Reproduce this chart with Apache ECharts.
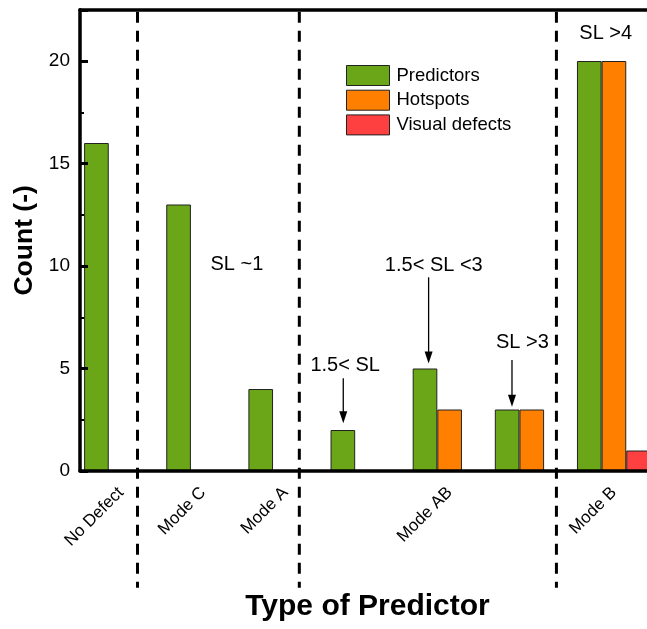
<!DOCTYPE html>
<html><head><meta charset="utf-8">
<script src="https://cdn.jsdelivr.net/npm/echarts@6/dist/echarts.min.js"></script>
<style>html,body{margin:0;padding:0;background:#fff}#c{width:647px;height:629px}</style>
</head><body><div id="c"></div>
<script>
// ---- data ----
const categories = ['No Defect', 'Mode C', 'Mode A', '', 'Mode AB', '', 'Mode B'];
const predictors = [16, 13, 4, 2, 5, 3, 20];
const hotspots = [null, null, null, null, 3, 3, 20];
const visualDefects = [null, null, null, null, null, null, 1];
const yTickValues = [0, 5, 10, 15, 20];
// group separators (in category units, band centers at 0..6)
const separators = [0.2, 2.17, 5.3];
const separatorBottom = -5.7;
const annotationTexts = ['SL >4', 'SL ~1', '1.5< SL <3', 'SL >3', '1.5< SL'];
const annotationX = [5.90, 1.41, 3.807, 4.886, 2.728];
const annotationY = [21.33, 10.08, 10.01, 6.27, 5.13];
const arrowX = [2.705, 3.744, 4.759];
const arrowFrom = [4.52, 9.45, 5.41];
const arrowTo = [2.33, 5.25, 3.14];

const FONT = 'Liberation Sans, Arial, Helvetica, sans-serif';
const chart = echarts.init(document.getElementById('c'), null, {renderer: 'canvas'});
const barStyle = (c) => ({color: c, borderColor: '#222', borderWidth: 1});

chart.setOption({
  animation: false,
  backgroundColor: '#fff',
  grid: {left: 80, top: 9.75, width: 575, height: 461.25, containLabel: false, outerBoundsMode: 'none'},
  legend: {
    orient: 'vertical', left: 346, top: 65, padding: 0,
    itemWidth: 43, itemHeight: 20, itemGap: 3.7,
    icon: 'rect',
    itemStyle: {borderColor: '#222', borderWidth: 1},
    textStyle: {fontFamily: FONT, fontSize: 18.5, color: '#000', lineHeight: 20, padding: [0, 0, 0, 2]},
    data: ['Predictors', 'Hotspots', 'Visual defects']
  },
  xAxis: [{
    type: 'category', data: categories, z: 5,
    axisLine: {show: true, onZero: false, lineStyle: {color: '#000', width: 3.5}},
    axisTick: {show: false},
    axisLabel: {rotate: 45, margin: 19, interval: 0, fontFamily: FONT, fontSize: 17, color: '#000'},
    name: 'Type of Predictor', nameLocation: 'middle', nameGap: 121,
    nameTextStyle: {fontFamily: FONT, fontSize: 30, fontWeight: 'bold', color: '#000'}
  }, {
    type: 'value', min: -0.5, max: 6.5, position: 'top', z: 5,
    axisLine: {show: true, onZero: false, lineStyle: {color: '#000', width: 3.5}},
    axisTick: {show: false}, axisLabel: {show: false}, splitLine: {show: false}
  }],
  yAxis: [{
    type: 'value', min: 0, max: 22.5, interval: 5, z: 5, position: 'left',
    axisLine: {show: true, onZero: false, lineStyle: {color: '#000', width: 3.5}},
    axisTick: {show: true, inside: true, length: 8, lineStyle: {color: '#000', width: 3}},
    splitLine: {show: false},
    axisLabel: {margin: 10, fontFamily: FONT, fontSize: 19, color: '#000',
      formatter: v => yTickValues.indexOf(v) >= 0 ? String(v) : ''},
    name: 'Count (-)', nameLocation: 'middle', nameGap: 40,
    nameTextStyle: {fontFamily: FONT, fontSize: 26.5, fontWeight: 'bold', color: '#000'}
  }, {
    type: 'value', min: 0, max: 22.5, interval: 2.5, position: 'left', z: 5,
    axisLine: {show: false, onZero: false},
    axisTick: {show: true, inside: true, length: 4, lineStyle: {color: '#000', width: 2}},
    axisLabel: {show: false}, splitLine: {show: false}
  }],
  series: [
    {name: 'Predictors', type: 'bar', data: predictors, barWidth: '30%', barGap: '0%', itemStyle: barStyle('#6aa617')},
    {name: 'Hotspots', type: 'bar', data: hotspots, barWidth: '30%', barGap: '0%', itemStyle: barStyle('#ff8000')},
    {name: 'Visual defects', type: 'bar', data: visualDefects, barWidth: '30%', barGap: '0%', itemStyle: barStyle('#ff4040')}
  ]
});

const px = v => chart.convertToPixel({xAxisIndex: 1}, v);
const py = v => chart.convertToPixel({yAxisIndex: 0}, v);
const graphics = [];
separators.forEach(s => {
  graphics.push({type: 'line', z: 10, shape: {x1: px(s), y1: py(22.5) + 2, x2: px(s), y2: py(separatorBottom)},
    style: {stroke: '#000', lineWidth: 3, lineDash: [11, 8]}});
});
annotationTexts.forEach((t, i) => {
  graphics.push({type: 'text', z: 10, x: px(annotationX[i]), y: py(annotationY[i]),
    style: {text: t, fontFamily: FONT, fontSize: 20, fill: '#000', align: 'center', verticalAlign: 'middle'}});
});
arrowX.forEach((a, i) => {
  const x = px(a), y1 = py(arrowFrom[i]), y2 = py(arrowTo[i]);
  graphics.push({type: 'line', z: 10, shape: {x1: x, y1: y1, x2: x, y2: y2 - 10},
    style: {stroke: '#000', lineWidth: 1.3}});
  graphics.push({type: 'polygon', z: 10, shape: {points: [[x - 4, y2 - 12], [x + 4, y2 - 12], [x, y2]]},
    style: {fill: '#000'}});
});
chart.setOption({graphic: graphics});
</script></body></html>
